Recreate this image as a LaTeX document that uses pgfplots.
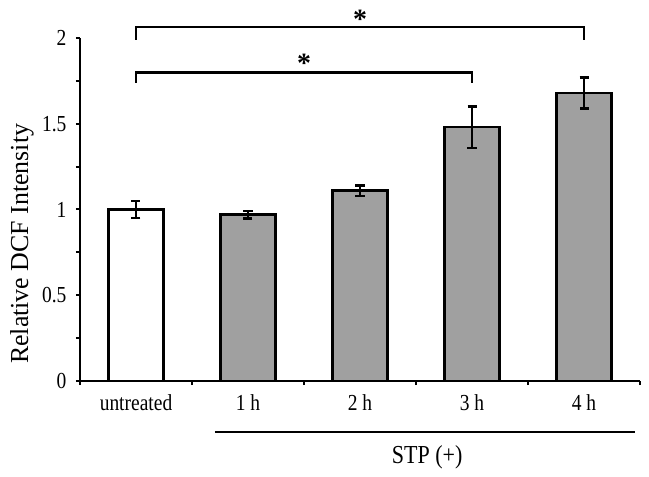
\documentclass[border=0pt]{standalone}
\usepackage{fontspec}
\setmainfont{Liberation Serif}
\newfontfamily\lbl{Liberation Serif}[FakeStretch=0.85]
\usepackage{pgfplots}
\pgfplotsset{compat=1.18}
\definecolor{bargray}{RGB}{160,160,160}
\begin{document}
\begin{tikzpicture}
\useasboundingbox (-80bp,-96bp) rectangle (569bp,381bp);
\begin{axis}[
  at={(0,0)}, anchor=south west,
  scale only axis, width=560bp, height=343bp,
  xmin=-0.5, xmax=4.5, ymin=0, ymax=2,
  clip=false,
  axis x line*=bottom, axis y line*=left,
  axis line style={line width=2.5bp, -},
  xtick={0,1,2,3,4}, xticklabels={untreated,1 h,2 h,3 h,4 h},
  major x tick style={draw=none},
  minor xtick={-0.5,0.5,1.5,2.5,3.5,4.5},
  ytick={0,0.5,1,1.5,2}, minor ytick={0.25,0.75,1.25,1.75},
  yticklabels={0,0.5,1,1.5,2},
  tick align=outside,
  major tick length=4bp, minor tick length=4bp,
  every tick/.style={black, line width=2bp},
  tick label style={font=\lbl\fontsize{23}{28}\selectfont},
  xticklabel style={yshift=-6bp},
  yticklabel style={xshift=-6bp},
  /pgf/number format/assume math mode=true,
  ylabel={Relative DCF Intensity},
  ylabel style={at={(axis description cs:-0.1036,0.40)}, anchor=center, font=\fontsize{26}{30}\selectfont},
]
\addplot[ybar, bar width=55bp, bar shift=0pt, fill=white, draw=black, line width=2.5bp,
  error bars/.cd, y dir=both, y explicit,
  error bar style={line width=2.5bp},
  error mark options={rotate=90, mark size=4.5bp, line width=2.5bp}]
  coordinates {(0,1.00) +- (0,0.05)};
\addplot[ybar, bar width=55bp, bar shift=0pt, fill=bargray, draw=black, line width=2.5bp,
  error bars/.cd, y dir=both, y explicit,
  error bar style={line width=2.5bp},
  error mark options={rotate=90, mark size=4.5bp, line width=2.5bp}]
  coordinates {
    (1,0.97) +- (0,0.022)
    (2,1.11) +- (0,0.03)
    (3,1.48) +- (0,0.12)
    (4,1.68) +- (0,0.09)
  };
\draw[line width=2.5bp] (axis cs:0,1.99) |- (axis cs:4,2.064) -- (axis cs:4,1.99);
\draw[line width=2.5bp] (axis cs:0,1.74) |- (axis cs:3,1.80) -- (axis cs:3,1.74);
\node[font=\fontsize{28}{28}\selectfont\bfseries, inner sep=0pt] at (axis cs:2.0,2.11) {*};
\node[font=\fontsize{28}{28}\selectfont\bfseries, inner sep=0pt] at (axis cs:1.5,1.85) {*};
\draw[line width=2.5bp] (axis cs:0.705,-0.297) -- (axis cs:4.455,-0.297);
\node[font=\lbl\fontsize{26}{28}\selectfont] at (axis cs:2.6,-0.443) {STP (+)};
\end{axis}
\end{tikzpicture}
\end{document}
